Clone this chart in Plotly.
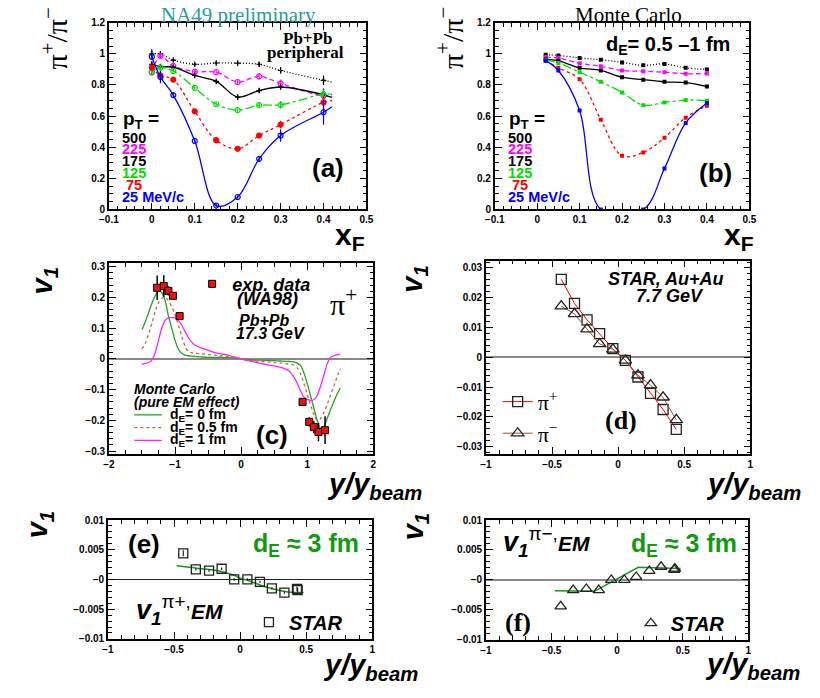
import plotly.graph_objects as go

W, H = 820, 698
SANS = "Liberation Sans, Arial, sans-serif"
SERIF = "Liberation Serif, Times New Roman, serif"


def px(x):
    return x / W


def py(y):
    return 1 - y / H


# ---------------- Panel (a): NA49 preliminary ----------------
a_x = [0.0, 0.02, 0.05, 0.1, 0.15, 0.2, 0.25, 0.3, 0.4]
a_500 = [1.00, 1.00, 0.96, 0.933, 0.941, 0.94, 0.933, 0.893, 0.83]
a_225 = [0.88, 0.985, 0.922, 0.886, 0.882, 0.819, 0.855, 0.81, 0.73]
a_175 = [0.933, 0.918, 0.914, 0.861, 0.823, 0.722, 0.764, 0.787, 0.737]
a_125 = [0.885, 0.912, 0.89, 0.781, 0.676, 0.638, 0.67, 0.672, 0.741]
a_75 = [0.912, 0.861, 0.834, 0.63, 0.445, 0.39, 0.475, 0.545, 0.688]
a_25 = [0.981, 0.851, 0.735, 0.44, 0.025, 0.08, 0.325, 0.475, 0.625]
a_err_500 = [0.03, 0.015, 0.01, 0.01, 0.01, 0.01, 0.015, 0.02, 0.03]
a_err_225 = [0.02, 0.015, 0.01, 0.01, 0.01, 0.02, 0.02, 0.025, 0.04]
a_err_175 = [0.02, 0.015, 0.01, 0.01, 0.01, 0.015, 0.015, 0.015, 0.04]
a_err_125 = [0.02, 0.015, 0.01, 0.01, 0.01, 0.01, 0.015, 0.025, 0.03]
a_err_75 = [0.02, 0.015, 0.01, 0.01, 0.01, 0.01, 0.015, 0.025, 0.04]
a_err_25 = [0.02, 0.04, 0.015, 0.01, 0.01, 0.01, 0.015, 0.04, 0.08]
a_curve_end_x = 0.42
a_curve_end = {"500": 0.818, "225": 0.74, "175": 0.72, "125": 0.74, "75": 0.70, "25": 0.66}

# ---------------- Panel (b): Monte Carlo ----------------
b_x = [0.02, 0.05, 0.1, 0.15, 0.2, 0.25, 0.3, 0.35, 0.4]
b_500 = [0.994, 0.99, 0.973, 0.962, 0.945, 0.926, 0.935, 0.91, 0.90]
b_225 = [0.979, 0.973, 0.939, 0.92, 0.893, 0.888, 0.882, 0.872, 0.874]
b_175 = [0.966, 0.956, 0.91, 0.893, 0.85, 0.834, 0.82, 0.815, 0.79]
b_125 = [0.962, 0.941, 0.882, 0.82, 0.752, 0.67, 0.688, 0.703, 0.699]
b_75 = [0.956, 0.91, 0.836, 0.577, 0.345, 0.366, 0.461, 0.59, 0.667]
b_25 = [0.956, 0.893, 0.636, 0.0, None, 0.0, 0.263, 0.556, 0.684]

pt_labels = ["500", "225", "175", "125", " 75", "25 MeV/c"]
pt_colors = ["#000000", "#ff00ff", "#000000", "#00dd00", "#ff0000", "#0000ff"]
pt_dash = ["1px,2px", "5px,3px", "solid", "dashdot", "3px,3px", "solid"]
pt_symbols = ["cross-thin-open", "circle-open", "cross-thin-open", "circle-open", "circle", "circle-open"]
pt_msize = [4, 5, 4, 5, 5, 5]

# ---------------- Panel (c): WA98 v1 ----------------
c_x = [-1.27, -1.17, -1.10, -1.03, -0.93, 0.93, 1.03, 1.10, 1.17, 1.27]
c_y = [0.231, 0.237, 0.221, 0.205, 0.139, -0.140, -0.205, -0.222, -0.238, -0.232]
c_err = [0.04, 0.035, 0.015, 0.01, 0.01, 0.01, 0.015, 0.02, 0.03, 0.045]
c_xerr = [0.03] * 10

mc_x = [-1.5, -1.45, -1.4, -1.35, -1.3, -1.25, -1.2, -1.15, -1.1, -1.05, -1.0, -0.95,
        -0.9, -0.85, -0.8, -0.75, -0.7, -0.6, -0.5, -0.4, -0.3, -0.2, -0.1, 0.0, 0.1,
        0.2, 0.3, 0.4, 0.5, 0.6, 0.7, 0.75, 0.8, 0.85, 0.9, 0.95, 1.0, 1.05, 1.1, 1.15,
        1.2, 1.25, 1.3, 1.35, 1.4, 1.45, 1.5]
mc_d0 = [0.095, 0.12, 0.15, 0.18, 0.205, 0.222, 0.215, 0.19, 0.14, 0.10, 0.06, 0.032,
         0.018, 0.012, 0.010, 0.009, 0.008, 0.006, 0.005, 0.005, 0.005, 0.004, 0.003, 0.0,
         -0.003, -0.004, -0.004, -0.005, -0.006, -0.007, -0.008, -0.009, -0.010, -0.014,
         -0.022, -0.045, -0.08, -0.12, -0.16, -0.20, -0.225, -0.222, -0.195, -0.167,
         -0.14, -0.116, -0.095]
mc_d05 = [0.032, 0.05, 0.08, 0.115, 0.155, 0.182, 0.197, 0.20, 0.19, 0.17, 0.145, 0.11,
          0.075, 0.042, 0.024, 0.020, 0.018, 0.016, 0.014, 0.012, 0.010, 0.008, 0.004, 0.0,
          -0.004, -0.006, -0.008, -0.010, -0.012, -0.014, -0.016, -0.018, -0.021, -0.03,
          -0.05, -0.08, -0.115, -0.15, -0.18, -0.20, -0.195, -0.175, -0.15, -0.12, -0.09,
          -0.06, -0.032]
mc_d1 = [-0.018, -0.015, -0.012, -0.004, 0.02, 0.06, 0.10, 0.125, 0.133, 0.135, 0.133,
         0.125, 0.11, 0.09, 0.07, 0.055, 0.045, 0.035, 0.028, 0.02, 0.016, 0.012, 0.006,
         0.0, -0.006, -0.01, -0.015, -0.02, -0.023, -0.028, -0.036, -0.045, -0.06, -0.08,
         -0.105, -0.125, -0.132, -0.135, -0.133, -0.12, -0.09, -0.055, -0.018, 0.004,
         0.01, 0.013, 0.015]
mc_names = ["d<sub>E</sub>= 0 fm", "d<sub>E</sub>= 0.5 fm", "d<sub>E</sub>= 1 fm"]
mc_cols = ["#22a022", "#d0604a", "#ff22ff"]
mc_dash = ["solid", "dot", "solid"]

# ---------------- Panel (d): STAR Au+Au 7.7 GeV ----------------
d_x = [-0.43, -0.33, -0.235, -0.14, -0.04, 0.055, 0.15, 0.245, 0.34, 0.44]
d_pip = [0.0262, 0.0181, 0.0126, 0.0080, 0.0029, -0.0010, -0.0066, -0.0121, -0.0175, -0.0242]
d_pim = [0.0172, 0.0146, 0.0095, 0.0045, 0.0027, -0.0010, -0.0060, -0.0093, -0.0134, -0.0210]

# ---------------- Panel (e): v1 pi+ EM ----------------
e_x = [-0.43, -0.335, -0.235, -0.14, -0.045, 0.055, 0.15, 0.24, 0.335, 0.43, 0.435]
e_y = [0.0044, 0.0017, 0.0015, 0.0018, 0.0, 0.0, -0.0004, -0.0015, -0.0022, -0.0016, -0.0018]
e_err = [0.0005, 0.0002, 0.0002, 0.0002, 0.0002, 0.0002, 0.0002, 0.0002, 0.0002, 0.0004, 0.0004]
e_cx = [-0.48, -0.4, -0.33, -0.25, -0.15, -0.1, -0.04, 0.0, 0.06, 0.1, 0.16, 0.26, 0.36, 0.48]
e_cy = [0.0023, 0.0021, 0.0019, 0.0017, 0.00137, 0.0011, 0.00066, 0.0002, -0.00016,
        -0.0005, -0.001, -0.00165, -0.0021, -0.0022]

# ---------------- Panel (f): v1 pi- EM ----------------
f_x = [-0.43, -0.335, -0.235, -0.14, -0.045, 0.055, 0.145, 0.245, 0.335, 0.435, 0.44]
f_y = [-0.0044, -0.0017, -0.0015, -0.0017, 0.0, 0.0, 0.0005, 0.0015, 0.0022, 0.0017, 0.0019]
f_cx = [-0.476, -0.174, 0.161, 0.484]
f_cy = [-0.0018, -0.0019, 0.0021, 0.0019]

fig = go.Figure()

# ----- panel (a) traces -----
a_series = [a_500, a_225, a_175, a_125, a_75, a_25]
a_errs = [a_err_500, a_err_225, a_err_175, a_err_125, a_err_75, a_err_25]
end_keys = ["500", "225", "175", "125", "75", "25"]
for ys, errs, col, dash, sym, ms, key in zip(a_series, a_errs, pt_colors, pt_dash, pt_symbols,
                                             pt_msize, end_keys):
    fig.add_trace(go.Scatter(x=a_x + [a_curve_end_x], y=ys + [a_curve_end[key]], mode="lines",
                             line=dict(color=col, width=1.3, dash=dash, shape="spline", smoothing=1.0),
                             xaxis="x", yaxis="y", showlegend=False, hoverinfo="skip"))
    fig.add_trace(go.Scatter(x=a_x, y=ys, mode="markers",
                             marker=dict(symbol=sym, size=ms, color=col, line=dict(color=col, width=1.2)),
                             error_y=dict(type="data", array=errs, color=col, thickness=1.2, width=0),
                             xaxis="x", yaxis="y", showlegend=False))

# ----- panel (b) traces -----
b_series = [b_500, b_225, b_175, b_125, b_75, b_25]
for ys, col, dash in zip(b_series, pt_colors, pt_dash):
    fig.add_trace(go.Scatter(x=b_x, y=ys, mode="lines+markers", connectgaps=True,
                             line=dict(color=col, width=1.3, dash=dash, shape="spline", smoothing=1.0),
                             marker=dict(symbol="square", size=4, color=col),
                             xaxis="x2", yaxis="y2", showlegend=False))

# ----- panel (c) traces -----
for ys, name, col, dash in zip([mc_d0, mc_d05, mc_d1], mc_names, mc_cols, mc_dash):
    fig.add_trace(go.Scatter(x=mc_x, y=ys, mode="lines", name=name,
                             line=dict(color=col, width=1.3, dash=dash, shape="spline", smoothing=0.6),
                             xaxis="x3", yaxis="y3", showlegend=False))
fig.add_trace(go.Scatter(x=c_x, y=c_y, mode="markers", name="exp. data",
                         marker=dict(symbol="square", size=7, color="#ee1111", line=dict(color="black", width=1)),
                         error_y=dict(type="data", array=c_err, color="black", thickness=1.5, width=0),
                         error_x=dict(type="data", array=c_xerr, color="black", thickness=1.5, width=0),
                         xaxis="x3", yaxis="y3", legend="legend"))

# ----- panel (d) traces -----
fig.add_trace(go.Scatter(x=d_x, y=d_pip, mode="lines+markers", name="π<sup>+</sup>",
                         line=dict(color="#ff0000", width=1),
                         marker=dict(symbol="square-open", size=10, color="#222222", line=dict(width=1.3)),
                         xaxis="x4", yaxis="y4", legend="legend3"))
fig.add_trace(go.Scatter(x=d_x, y=d_pim, mode="lines+markers", name="π<sup>−</sup>",
                         line=dict(color="#a0522d", width=1),
                         marker=dict(symbol="triangle-up-open", size=11, color="#222222", line=dict(width=1.3)),
                         xaxis="x4", yaxis="y4", legend="legend3"))

# ----- panel (e) traces -----
fig.add_trace(go.Scatter(x=e_cx, y=e_cy, mode="lines", line=dict(color="#139a13", width=1.5, shape="spline"),
                         xaxis="x5", yaxis="y5", showlegend=False))
fig.add_trace(go.Scatter(x=e_x, y=e_y, mode="markers", name="STAR",
                         marker=dict(symbol="square-open", size=9, color="#222222", line=dict(width=1.3)),
                         error_y=dict(type="data", array=e_err, color="#222222", thickness=1.2, width=0),
                         xaxis="x5", yaxis="y5", legend="legend4"))

# ----- panel (f) traces -----
fig.add_trace(go.Scatter(x=f_cx, y=f_cy, mode="lines", line=dict(color="#139a13", width=1.5),
                         xaxis="x6", yaxis="y6", showlegend=False))
fig.add_trace(go.Scatter(x=f_x, y=f_y, mode="markers", name="STAR",
                         marker=dict(symbol="triangle-up-open", size=10, color="#222222", line=dict(width=1.3)),
                         xaxis="x6", yaxis="y6", legend="legend5"))


def axis(domain, rng, dtick, minor_dtick, anchor, tickvals=None, ticktext=None,
         zeroline=False, zlc="#888888", zlw=1.5):
    d = dict(domain=domain, range=rng, anchor=anchor, showline=True, linecolor="black",
             linewidth=1.6, mirror="allticks", ticks="inside", ticklen=7, tickwidth=1,
             tickcolor="black", showgrid=False, zeroline=zeroline, zerolinecolor=zlc,
             zerolinewidth=zlw,
             tickfont=dict(family=SANS, size=10, color="black", weight="bold"),
             minor=dict(ticks="inside", ticklen=4, tickwidth=1, tickcolor="black",
                        dtick=minor_dtick, showgrid=False),
             fixedrange=True)
    if tickvals is not None:
        d.update(tickmode="array", tickvals=tickvals, ticktext=ticktext)
    else:
        d.update(tick0=0, dtick=dtick)
    return d


dom = lambda a, b: [a / W, b / W]
domy = lambda top, bot: [1 - bot / H, 1 - top / H]

e_ticks = [-0.01, -0.005, 0, 0.005, 0.01]
e_ticktext = ["−0.01", "−0.005", "−0", "0.005", "0.01"]

transparent = "rgba(0,0,0,0)"
layout = dict(
    width=W, height=H, autosize=False,
    margin=dict(l=0, r=0, t=0, b=0),
    paper_bgcolor="white", plot_bgcolor="white",
    xaxis=axis(dom(101, 364), [-0.1, 0.5], 0.1, 0.02, "y"),
    yaxis=axis(domy(17, 207), [0, 1.2], 0.2, 0.05, "x"),
    xaxis2=axis(dom(495, 755), [-0.1, 0.5], 0.1, 0.02, "y2"),
    yaxis2=axis(domy(17, 207), [0, 1.2], 0.2, 0.05, "x2"),
    xaxis3=axis(dom(101, 371), [-2, 2], 1, 0.25, "y3"),
    yaxis3=axis(domy(262, 456), [-0.31, 0.31], 0.1, 0.02, "x3", zeroline=True, zlc="#8a8a8a"),
    xaxis4=axis(dom(486, 756), [-1, 1], 0.5, 0.1, "y4"),
    yaxis4=axis(domy(259, 456), [-0.0325, 0.0325], 0.01, 0.002, "x4", zeroline=True, zlc="#8a8a8a"),
    xaxis5=axis(dom(100, 370), [-1, 1], 0.5, 0.1, "y5"),
    yaxis5=axis(domy(523, 644), [-0.01, 0.01], None, 0.001, "x5", e_ticks, e_ticktext,
                zeroline=True, zlc="#222222", zlw=1.1),
    xaxis6=axis(dom(486, 754), [-1, 1], 0.5, 0.1, "y6"),
    yaxis6=axis(domy(523, 645), [-0.01, 0.01], None, 0.001, "x6", e_ticks, e_ticktext,
                zeroline=True, zlc="#8a8a8a"),
    legend=dict(x=px(186), y=py(283), xanchor="left", yanchor="middle", bgcolor=transparent,
                font=dict(family=SANS, size=18, color="black", weight="bold", style="italic"),
                itemwidth=30),
    legend3=dict(x=px(498), y=py(419), xanchor="left", yanchor="middle", bgcolor=transparent,
                 font=dict(family=SERIF, size=22, color="black"), itemwidth=30),
    legend4=dict(x=px(244), y=py(627), xanchor="left", yanchor="middle", bgcolor=transparent,
                 font=dict(family=SANS, size=20, color="black", weight="bold", style="italic"),
                 itemwidth=30),
    legend5=dict(x=px(634), y=py(628), xanchor="left", yanchor="middle", bgcolor=transparent,
                 font=dict(family=SANS, size=20, color="black", weight="bold", style="italic"),
                 itemwidth=30),
)
fig.update_layout(**layout)

annotations = []


def ann(text, x, y, size, family=SANS, color="black", xanchor="center", yanchor="middle", angle=0):
    annotations.append(dict(text=text, x=px(x), y=py(y), xref="paper", yref="paper",
                            showarrow=False, xanchor=xanchor, yanchor=yanchor, textangle=angle,
                            font=dict(family=family, size=size, color=color)))


# titles
ann("NA49 preliminary", 233, 9, 21, SERIF, "#2a9d9d")
ann("Monte Carlo", 632, 9, 21, SERIF)
# axis titles
for xc in (46, 450):
    ann("π<sup>+</sup>/π<sup>−</sup>", xc, 33, 30, SERIF, angle=-90)
for xc in (347, 744):
    ann("<b>x</b><sub><b>F</b></sub>", xc, 235, 30)
for xc, yc in ((372, 488), (759, 488), (368, 673), (758, 672)):
    ann("<b><i>y/y</i></b><sub><b><i>beam</i></b></sub>", xc, yc, 29)
for xc, yc in ((35, 280), (413, 278), (30, 528), (413, 530)):
    ann("<b><i>v</i></b><sub><b><i>1</i></b></sub>", xc, yc, 29, angle=-90)

# panel (a)/(b) pT legends
for x0 in (112, 507):
    ann("<b>p<sub>T</sub> =</b>", x0 + 1, 116, 19, xanchor="left")
    for i, (lab, col) in enumerate(zip(pt_labels, pt_colors)):
        ann("<b>" + lab.replace(" ", "&nbsp;") + "</b>", x0, 134 + 12 * i, 14.5, color=col, xanchor="left")
ann("<b>Pb+Pb</b>", 304, 33, 17, SERIF)
ann("<b>peripheral</b>", 302, 47, 17, SERIF)
ann("<b>(a)</b>", 325, 165, 26)
ann("<b>d<sub>E</sub>= 0.5 –1 fm</b>", 672, 40, 20)
ann("<b>(b)</b>", 720, 170, 26)

# panel (c)
ann("<b><i>(WA98)</i></b>", 230, 298, 18, xanchor="left")
ann("π<sup>+</sup>", 341, 301, 30, SERIF)
ann("<b><i>Pb+Pb</i></b>", 259, 320, 16)
ann("<b><i>17.3 GeV</i></b>", 266, 333, 16)
ann("<b><i>Monte Carlo</i></b>", 125, 390, 14, xanchor="left")
ann("<b><i>(pure EM effect)</i></b>", 125, 403, 14, xanchor="left")
shapes = []
for i, (name, col, dash) in enumerate(zip(mc_names, mc_cols, mc_dash)):
    yy = 416 + 13 * i
    shapes.append(dict(type="line", xref="paper", yref="paper", x0=px(127), x1=px(155),
                       y0=py(yy), y1=py(yy), line=dict(color=col, width=1.3, dash=dash)))
    ann("<b>" + name + "</b>", 161, yy, 14, xanchor="left")
ann("<b>(c)</b>", 268, 437, 26)

# panel (d)
ann("<b><i>STAR, Au+Au</i></b>", 670, 278, 18)
ann("<b><i>7.7 GeV</i></b>", 674, 295, 18)
ann("<b>(d)</b>", 624, 422, 26, SERIF)

# panel (e)
ann("<b>(e)</b>", 137, 547, 26)
ann("<b>d<sub>E</sub> ≈ 3 fm</b>", 302, 548, 25, color="#139a13")
ann("<b><i>v</i></b><sub><b><i>1</i></b></sub><sup>π+,</sup><b><i><span style='font-size:21px'>EM</span></i></b>",
    173, 615, 27)

# panel (f)
ann("<b><i>v</i></b><sub><b><i>1</i></b></sub><sup>π−,</sup><b><i><span style='font-size:21px'>EM</span></i></b>",
    548, 545, 27)
ann("<b>d<sub>E</sub> ≈ 3 fm</b>", 688, 548, 25, color="#139a13")
ann("<b>(f)</b>", 519, 627, 26, SERIF)

fig.update_layout(annotations=annotations, shapes=shapes)
fig.write_html("out.html", config={"displayModeBar": False},
               post_script="document.body.style.margin='0px';")
